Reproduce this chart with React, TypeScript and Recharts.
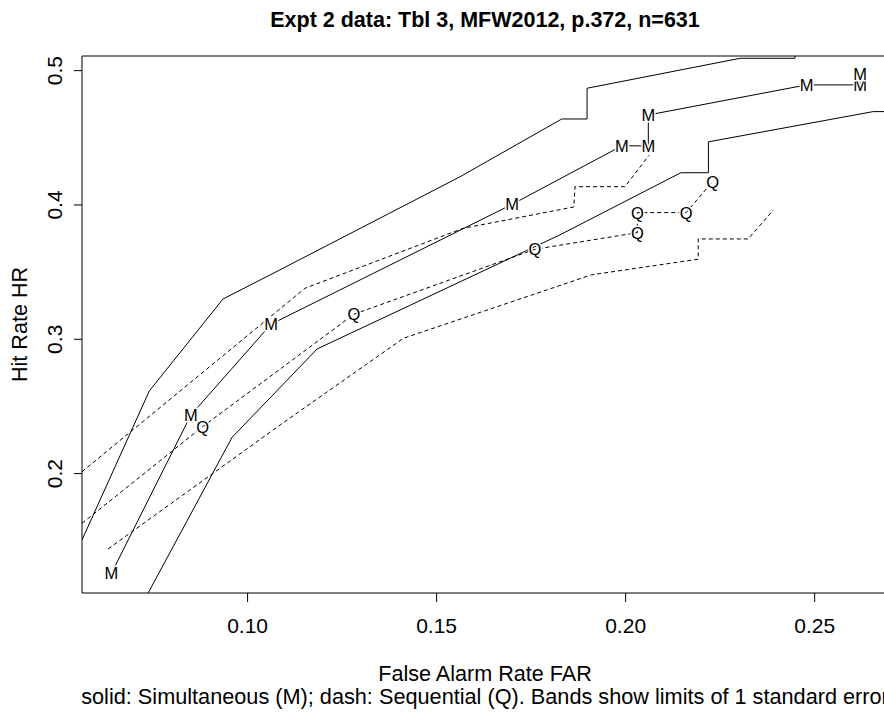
import React from "react";
import { LineChart, Line, XAxis, YAxis, ReferenceArea } from "recharts";

type Pt = { x: number; y: number };

const FONT = "'Liberation Sans', Arial, Helvetica, sans-serif";

const xTicks = [0.1, 0.15, 0.2, 0.25];
const yTicks = [0.2, 0.3, 0.4, 0.5];
const xDomain = [0.0562, 0.2694];
const yDomain = [0.1111, 0.5109];

// Simultaneous (M), solid
const mFar = [0.064, 0.085, 0.1062, 0.17, 0.199, 0.206, 0.206, 0.2479, 0.262, 0.262];
const mHr = [0.1258, 0.2436, 0.3112, 0.4005, 0.444, 0.444, 0.467, 0.4894, 0.4894, 0.4973];
const mUpFar = [0.0562, 0.074, 0.0935, 0.1085, 0.1562, 0.1831, 0.1898, 0.1898, 0.2303, 0.2448, 0.2448];
const mUpHr = [0.1506, 0.2615, 0.33, 0.3516, 0.421, 0.464, 0.464, 0.4869, 0.5092, 0.5092, 0.53];
const mLoFar = [0.0737, 0.0959, 0.1184, 0.1826, 0.2146, 0.2219, 0.2219, 0.2655, 0.2694];
const mLoHr = [0.1111, 0.227, 0.2928, 0.3777, 0.424, 0.424, 0.447, 0.4695, 0.4695];

// Sequential (Q), dashed
const qFar = [0.0562, 0.0881, 0.1281, 0.176, 0.2031, 0.2031, 0.216, 0.223];
const qHr = [0.163, 0.2349, 0.3186, 0.367, 0.3794, 0.3943, 0.3943, 0.4174];
const qUpFar = [0.0562, 0.1152, 0.157, 0.1863, 0.1866, 0.1998, 0.2062];
const qUpHr = [0.2014, 0.338, 0.3826, 0.3985, 0.4136, 0.4136, 0.437];
const qLoFar = [0.0631, 0.1086, 0.1412, 0.191, 0.2192, 0.2192, 0.2324, 0.2391];
const qLoHr = [0.1439, 0.2362, 0.3007, 0.348, 0.3596, 0.3747, 0.3747, 0.3963];

const zip = (xs: number[], ys: number[]): Pt[] => xs.map((x, i) => ({ x, y: ys[i] }));

const mData = zip(mFar, mHr);
const mUp = zip(mUpFar, mUpHr);
const mLo = zip(mLoFar, mLoHr);
const qData = zip(qFar, qHr);
const qUp = zip(qUpFar, qUpHr);
const qLo = zip(qLoFar, qLoHr);

const letterDot = (ch: string) => (props: any) => {
  const { cx, cy, payload, index } = props;
  if (cx == null || payload.x <= xDomain[0]) return <g key={`${ch}-${index}`} />;
  return (
    <text
      key={`${ch}-${index}`}
      x={cx}
      y={cy}
      dy={6}
      textAnchor="middle"
      fontSize={16.5}
      fontFamily={FONT}
      fill="#000"
      stroke="#fff"
      strokeWidth={3}
      paintOrder="stroke"
    >
      {ch}
    </text>
  );
};

const XTick = (props: any) => {
  const { x, y, payload } = props;
  return (
    <text x={x} y={y} dy={28.7} textAnchor="middle" fontSize={21} fontFamily={FONT} fill="#000">
      {payload.value.toFixed(2)}
    </text>
  );
};

const YTick = (props: any) => {
  const { x, y, payload } = props;
  const bx = x - 10;
  return (
    <text
      x={bx}
      y={y}
      transform={`rotate(-90, ${bx}, ${y})`}
      textAnchor="middle"
      fontSize={21}
      fontFamily={FONT}
      fill="#000"
    >
      {payload.value.toFixed(1)}
    </text>
  );
};

const lineCommon = {
  dataKey: "y",
  type: "linear" as const,
  stroke: "#000",
  strokeWidth: 1,
  activeDot: false,
  isAnimationActive: false,
};

export default function App() {
  return (
    <div
      style={{
        position: "absolute",
        left: 0,
        top: 0,
        width: 884,
        height: 719,
        overflow: "hidden",
        background: "#fff",
      }}
    >
      <LineChart width={900} height={719} margin={{ top: 56, right: 12, left: 0, bottom: 0 }}>
        <XAxis
          type="number"
          dataKey="x"
          domain={xDomain}
          allowDataOverflow
          ticks={xTicks}
          tick={<XTick />}
          tickSize={9}
          tickLine={{ stroke: "#000" }}
          axisLine={false}
          height={126}
        />
        <YAxis
          type="number"
          dataKey="y"
          domain={yDomain}
          allowDataOverflow
          ticks={yTicks}
          tick={<YTick />}
          tickSize={8}
          tickLine={{ stroke: "#000" }}
          axisLine={false}
          width={82}
        />
        <ReferenceArea
          x1={xDomain[0]}
          x2={xDomain[1]}
          y1={yDomain[0]}
          y2={yDomain[1]}
          fill="none"
          stroke="#000"
          strokeWidth={1}
          fillOpacity={0}
        />
        <Line {...lineCommon} data={mUp} dot={false} />
        <Line {...lineCommon} data={mLo} dot={false} />
        <Line {...lineCommon} data={qUp} dot={false} strokeDasharray="4 3" />
        <Line {...lineCommon} data={qLo} dot={false} strokeDasharray="4 3" />
        <Line {...lineCommon} data={qData} dot={letterDot("Q")} strokeDasharray="4 3" />
        <Line {...lineCommon} data={mData} dot={letterDot("M")} />
      </LineChart>
      <svg
        width={884}
        height={719}
        style={{ position: "absolute", left: 0, top: 0, pointerEvents: "none" }}
      >
        <text x={485} y={26.7} textAnchor="middle" fontSize={21.5} fontWeight="bold" fontFamily={FONT} fill="#000">
          Expt 2 data: Tbl 3, MFW2012, p.372, n=631
        </text>
        <text x={485} y={680.7} textAnchor="middle" fontSize={21.6} fontFamily={FONT} fill="#000">
          False Alarm Rate FAR
        </text>
        <text x={485} y={704.3} textAnchor="middle" fontSize={21.7} fontFamily={FONT} fill="#000">
          solid: Simultaneous (M); dash: Sequential (Q). Bands show limits of 1 standard error
        </text>
        <text
          x={27}
          y={324.5}
          transform="rotate(-90, 27, 324.5)"
          textAnchor="middle"
          fontSize={21.6}
          fontFamily={FONT}
          fill="#000"
        >
          Hit Rate HR
        </text>
      </svg>
    </div>
  );
}
